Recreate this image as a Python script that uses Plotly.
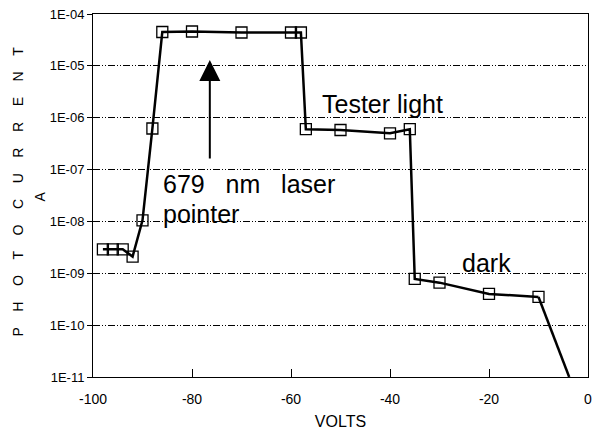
import plotly.graph_objects as go

volts = [-98, -96, -94, -92, -90, -88, -86, -80, -70, -60, -58, -57, -50, -40, -36, -35, -30, -20, -10]
current = [2.9e-9, 2.9e-9, 2.9e-9, 2.1e-9, 1.05e-8, 6.2e-7, 4.5e-5, 4.6e-5, 4.4e-5, 4.4e-5, 4.4e-5,
           6.0e-7, 5.8e-7, 5.0e-7, 6.0e-7, 7.8e-10, 6.6e-10, 4.0e-10, 3.5e-10]
tail_volts = [-10, -3.8]
tail_current = [3.5e-10, 1e-11]

tick_vals = [1e-11, 1e-10, 1e-9, 1e-8, 1e-7, 1e-6, 1e-5, 1e-4]
tick_text = ["1E-11", "1E-10", "1E-09", "1E-08", "1E-07", "1E-06", "1E-05", "1E-04"]
x_ticks = [-100, -80, -60, -40, -20, 0]

FONT = "Liberation Sans, Arial, sans-serif"
NB = "\u00a0"

fig = go.Figure()
fig.add_trace(go.Scatter(x=tail_volts, y=tail_current, mode="lines",
                         line=dict(color="black", width=2.5), showlegend=False, cliponaxis=True))
fig.add_trace(go.Scatter(x=volts, y=current, mode="lines+markers",
                         line=dict(color="black", width=2.5),
                         marker=dict(symbol="square-open", size=11, color="black",
                                     line=dict(color="black", width=1.3)),
                         showlegend=False))

dash = "7px,2px,1px,2px,1px,2px"
fig.update_xaxes(type="linear", range=[-100, 0], tickvals=x_ticks,
                 ticktext=[str(v) for v in x_ticks],
                 ticks="inside", ticklen=8, tickcolor="black", tickwidth=1,
                 showline=True, linecolor="black", linewidth=1, mirror=True,
                 showgrid=False, zeroline=False, ticklabelstandoff=9,
                 tickfont=dict(family=FONT, size=14, color="black"),
                 title=dict(text="VOLTS", font=dict(family=FONT, size=16, color="black"), standoff=10))
fig.update_yaxes(type="log", range=[-11, -4], tickvals=tick_vals, ticktext=tick_text,
                 ticks="outside", ticklen=5, tickcolor="black", tickwidth=1,
                 showline=True, linecolor="black", linewidth=1, mirror=True,
                 showgrid=True, gridcolor="black", gridwidth=1, griddash=dash,
                 zeroline=False,
                 tickfont=dict(family=FONT, size=13, color="black"))

title_text = (NB * 4).join(list("PHOTOCURRENT"))
annotations = [
    dict(text=title_text, xref="paper", yref="paper", x=(17 - 93) / 499, y=(377 - 192) / 363,
         textangle=-90, showarrow=False, xanchor="center", yanchor="middle",
         font=dict(family=FONT, size=14, color="black")),
    dict(text="A", xref="paper", yref="paper", x=(40 - 93) / 499, y=(377 - 196) / 363,
         textangle=-90, showarrow=False, xanchor="center", yanchor="middle",
         font=dict(family=FONT, size=14, color="black")),
    dict(text="679" + NB * 3 + "nm" + NB * 3 + "laser", xref="x", yref="y", x=-86.3, y=-7.278,
         showarrow=False, xanchor="left", yanchor="middle",
         font=dict(family=FONT, size=25, color="black")),
    dict(text="pointer", xref="x", yref="y", x=-86.3, y=-7.857,
         showarrow=False, xanchor="left", yanchor="middle",
         font=dict(family=FONT, size=25, color="black")),
    dict(text="Tester light", xref="x", yref="y", x=-54.2, y=-5.735,
         showarrow=False, xanchor="left", yanchor="middle",
         font=dict(family=FONT, size=25, color="black")),
    dict(text="dark", xref="x", yref="y", x=-25.8, y=-8.792,
         showarrow=False, xanchor="left", yanchor="middle",
         font=dict(family=FONT, size=25, color="black")),
    dict(text="", xref="x", yref="y", x=-76.4, y=-4.887, ax=0, ay=100,
         showarrow=True, arrowhead=2, arrowsize=2.1, arrowwidth=2, arrowcolor="black"),
]

fig.update_layout(width=599, height=439, margin=dict(l=93, r=7, t=14, b=62),
                  paper_bgcolor="white", plot_bgcolor="white",
                  font=dict(family=FONT, color="black"),
                  annotations=annotations, showlegend=False)

fig.write_html("out.html")
